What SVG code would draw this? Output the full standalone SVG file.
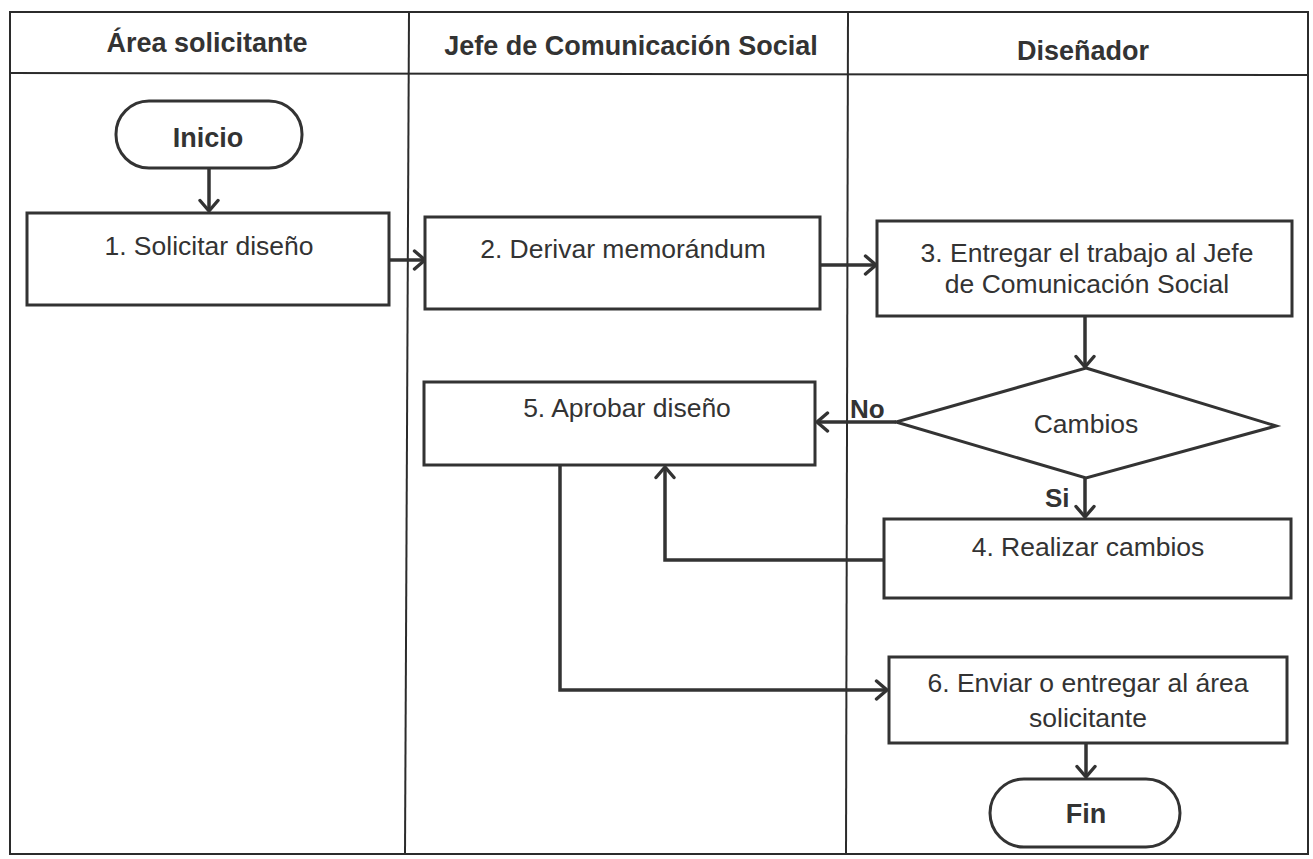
<svg xmlns="http://www.w3.org/2000/svg" width="1313" height="859" viewBox="0 0 1313 859">
  <style>
    .lane { fill: none; stroke: #2b2b2b; stroke-width: 2; }
    .box { fill: #ffffff; stroke: #333333; stroke-width: 3; }
    .conn { fill: none; stroke: #333333; stroke-width: 3.5; }
    .hdr { font-family: "Liberation Sans", Arial, sans-serif; font-weight: bold; font-size: 27px; fill: #333333; text-anchor: middle; }
    .txt { font-family: "Liberation Sans", Arial, sans-serif; font-size: 26.5px; fill: #333333; text-anchor: middle; }
    .term { font-family: "Liberation Sans", Arial, sans-serif; font-weight: bold; font-size: 27px; fill: #333333; text-anchor: middle; }
    .lbl { font-family: "Liberation Sans", Arial, sans-serif; font-weight: bold; font-size: 26px; fill: #333333; }
  </style>
  <defs>
    <!-- open chevron arrowhead shared by all connectors -->
    <marker id="arrow" viewBox="0 0 16 22" refX="13" refY="11" markerWidth="16" markerHeight="22" markerUnits="userSpaceOnUse" orient="auto">
      <path d="M2.5,2 L13,11 L2.5,20" fill="none" stroke="#333333" stroke-width="3.4" stroke-linecap="round" stroke-linejoin="round"/>
    </marker>
  </defs>
  <rect width="1313" height="859" fill="#ffffff"/>

  <!-- swimlane frame -->
  <g id="lanes">
    <rect class="lane" x="10" y="12" width="1298" height="842" stroke-width="2.5"/>
    <line class="lane" x1="10" y1="73" x2="1308" y2="75"/>
    <line class="lane" x1="409" y1="12" x2="405" y2="854"/>
    <line class="lane" x1="848" y1="13" x2="846" y2="854"/>
    <text class="hdr" x="207" y="52">Área solicitante</text>
    <text class="hdr" x="631" y="55">Jefe de Comunicación Social</text>
    <text class="hdr" x="1083" y="60">Diseñador</text>
  </g>

  <!-- connectors -->
  <g id="connectors">
    <line class="conn" x1="209" y1="168" x2="209" y2="211" marker-end="url(#arrow)"/>
    <line class="conn" x1="389" y1="260" x2="425" y2="260" marker-end="url(#arrow)"/>
    <line class="conn" x1="820" y1="265" x2="876" y2="265" marker-end="url(#arrow)"/>
    <line class="conn" x1="1085" y1="316" x2="1085" y2="367" marker-end="url(#arrow)"/>
    <line class="conn" x1="896" y1="422" x2="817" y2="422" marker-end="url(#arrow)"/>
    <line class="conn" x1="1085" y1="478" x2="1085" y2="517" marker-end="url(#arrow)"/>
    <polyline class="conn" points="884,560 665,560 665,467" marker-end="url(#arrow)"/>
    <polyline class="conn" points="560,465 560,690 887,690" marker-end="url(#arrow)"/>
    <line class="conn" x1="1086" y1="743" x2="1086" y2="777" marker-end="url(#arrow)"/>
    <text class="lbl" x="850" y="418">No</text>
    <text class="lbl" x="1045" y="507">Si</text>
  </g>

  <g id="inicio">
    <rect class="box" x="116" y="101" width="186" height="67" rx="33" ry="33"/>
    <text class="term" x="208" y="147">Inicio</text>
  </g>

  <g id="paso1">
    <rect class="box" x="27" y="213" width="362" height="92"/>
    <text class="txt" x="209" y="255">1. Solicitar diseño</text>
  </g>

  <g id="paso2">
    <rect class="box" x="425" y="217" width="395" height="92"/>
    <text class="txt" x="623" y="258">2. Derivar memorándum</text>
  </g>

  <g id="paso3">
    <rect class="box" x="877" y="221" width="415" height="95"/>
    <text class="txt" x="1087" y="262">3. Entregar el trabajo al Jefe</text>
    <text class="txt" x="1087" y="293">de Comunicación Social</text>
  </g>

  <g id="cambios">
    <polygon class="box" points="1086,368 1276,426 1086,478 896,422"/>
    <text class="txt" x="1086" y="433">Cambios</text>
  </g>

  <g id="paso5">
    <rect class="box" x="424" y="382" width="391" height="83"/>
    <text class="txt" x="627" y="417">5. Aprobar diseño</text>
  </g>

  <g id="paso4">
    <rect class="box" x="884" y="519" width="407" height="79"/>
    <text class="txt" x="1088" y="556">4. Realizar cambios</text>
  </g>

  <g id="paso6">
    <rect class="box" x="889" y="657" width="398" height="86"/>
    <text class="txt" x="1088" y="692">6. Enviar o entregar al área</text>
    <text class="txt" x="1088" y="727">solicitante</text>
  </g>

  <g id="fin">
    <rect class="box" x="990" y="779" width="190" height="68" rx="34" ry="34"/>
    <text class="term" x="1086" y="823">Fin</text>
  </g>
</svg>
